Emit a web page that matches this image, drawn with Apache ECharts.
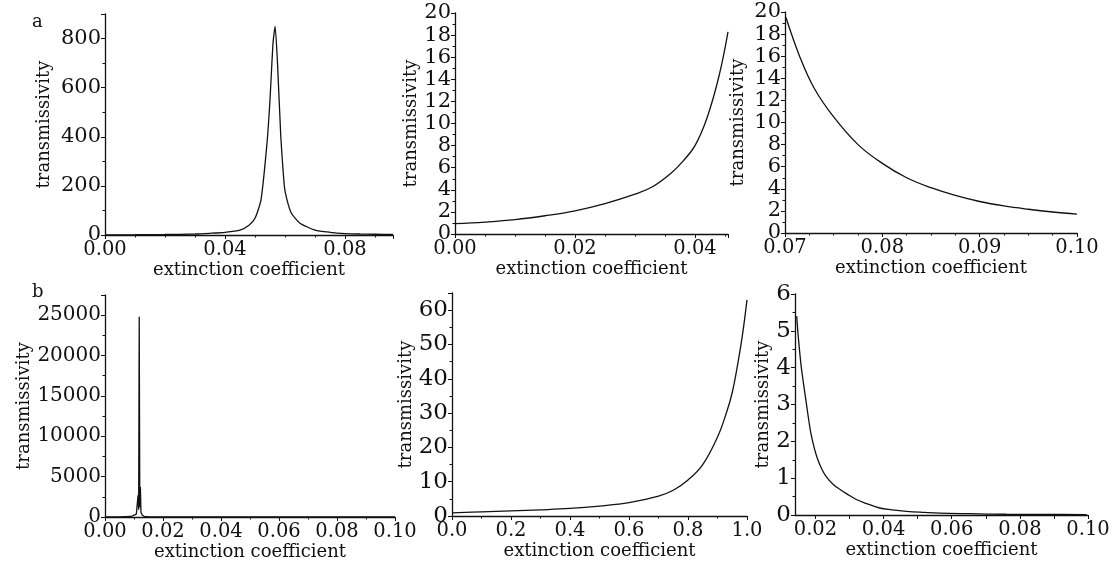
<!DOCTYPE html>
<html>
<head>
<meta charset="utf-8">
<script src="https://cdn.jsdelivr.net/npm/echarts@6/dist/echarts.min.js"></script>
<style>
html,body{margin:0;padding:0;background:#fff;}
#chart{width:1119px;height:569px;}
</style>
</head>
<body>
<div id="chart"></div>
<script>
// ---- data ----
const panelLetters = ['a', 'b'];
const xName = 'extinction coefficient';
const yName = 'transmissivity';

// panel a-1
const p1X = [0, 0.01, 0.02, 0.03, 0.035, 0.04, 0.045, 0.048, 0.05, 0.052, 0.054, 0.055, 0.056, 0.0567, 0.0575, 0.0586, 0.0595, 0.06, 0.062, 0.065, 0.07, 0.075, 0.08, 0.085, 0.09, 0.096];
const p1Y = [0.5, 1, 2, 4, 7, 11, 20, 40, 68, 143, 374, 551, 780, 850, 700, 400, 240, 180, 92, 48, 20, 11, 6, 4, 3, 2];
// panel a-2
const p2X = [0, 0.005, 0.01, 0.015, 0.02, 0.025, 0.03, 0.033, 0.036, 0.038, 0.04, 0.042, 0.044, 0.0455];
const p2Y = [0.93, 1.08, 1.3, 1.65, 2.1, 2.75, 3.6, 4.3, 5.5, 6.6, 8.0, 10.5, 14.3, 18.3];
// panel a-3
const p3X = [0.0701, 0.0715, 0.073, 0.075, 0.0775, 0.08, 0.0825, 0.085, 0.0875, 0.09, 0.0925, 0.095, 0.0975, 0.1];
const p3Y = [19.5, 16, 13.1, 10.5, 8.0, 6.3, 5.0, 4.1, 3.4, 2.85, 2.45, 2.15, 1.9, 1.7];
// panel b-1
const p4X = [0, 0.005, 0.009, 0.0108, 0.0114, 0.0116, 0.0118, 0.012, 0.0122, 0.0124, 0.0128, 0.0135, 0.015, 0.02, 0.04, 0.06, 0.08, 0.1];
const p4Y = [0, 10, 60, 350, 2700, 900, 24800, 1200, 3700, 600, 250, 90, 40, 12, 3, 1, 1, 0];
// panel b-2
const p5X = [0, 0.1, 0.2, 0.3, 0.4, 0.5, 0.6, 0.7, 0.75, 0.8, 0.85, 0.9, 0.93, 0.95, 0.97, 0.985, 1.0];
const p5Y = [0.9, 1.2, 1.5, 1.8, 2.2, 2.9, 3.9, 5.8, 7.5, 10.5, 15, 23, 30, 36, 45, 53, 63];
// panel b-3
const p6X = [0.0145, 0.015, 0.0158, 0.0166, 0.0173, 0.018, 0.0187, 0.0197, 0.0207, 0.022, 0.0231, 0.025, 0.0271, 0.03, 0.032, 0.035, 0.0388, 0.0425, 0.0467, 0.052, 0.0565, 0.065, 0.076, 0.088, 0.0996];
const p6Y = [5.4, 4.8, 4.05, 3.5, 3.05, 2.6, 2.2, 1.8, 1.5, 1.22, 1.05, 0.85, 0.7, 0.53, 0.42, 0.31, 0.19, 0.14, 0.1, 0.07, 0.05, 0.035, 0.02, 0.015, 0.01];

// tick labels
const p6XLabels = [0.02, 0.04, 0.06, 0.08, 0.10];
const p6XTicks = [0.02, 0.03, 0.04, 0.05, 0.06, 0.07, 0.08, 0.09, 0.10];

// ---- build chart ----
const FONT = 'DejaVu Serif';
const INK = '#111';
const zip = (xs, ys) => xs.map((x, i) => [x, ys[i]]);

const grids = [
  {left: 105, top: 14, width: 288, height: 221},
  {left: 455, top: 13, width: 273, height: 221},
  {left: 785, top: 12, width: 292, height: 221},
  {left: 105, top: 295, width: 290, height: 222},
  {left: 452, top: 293, width: 295, height: 223},
  {left: 795, top: 294, width: 293, height: 221}
];

const axisCommon = {
  axisLine: {show: true, lineStyle: {color: INK, width: 1.3}},
  axisTick: {show: true, length: 4, lineStyle: {color: INK, width: 1}},
  minorTick: {show: true, length: 2.5, lineStyle: {color: INK, width: 1}},
  splitLine: {show: false},
  minorSplitLine: {show: false}
};

function xAx(i, cfg) {
  return Object.assign({}, axisCommon, {
    type: 'value', gridIndex: i,
    name: xName, nameLocation: 'middle', nameGap: 25,
    nameTextStyle: {fontFamily: FONT, fontSize: 18, color: INK},
    axisLabel: Object.assign({fontFamily: FONT, fontSize: 19.5, color: INK, margin: 5,
      showMaxLabel: cfg.showMax !== false, hideOverlap: false,
      formatter: v => v.toFixed(cfg.dec)}, cfg.label || {}),
  }, cfg.extra || {}, {min: cfg.min, max: cfg.max});
}
function yAx(i, cfg) {
  return Object.assign({}, axisCommon, {
    type: 'value', gridIndex: i,
    name: yName, nameLocation: 'middle', nameGap: cfg.gap, nameRotate: 90,
    nameTextStyle: {fontFamily: FONT, fontSize: 18, color: INK},
    min: cfg.min, max: cfg.max, interval: cfg.interval,
    minorTick: Object.assign({}, axisCommon.minorTick, {splitNumber: cfg.minor}),
    axisLabel: {fontFamily: FONT, fontSize: cfg.fs, lineHeight: cfg.fs, color: INK, margin: 4,
      showMaxLabel: cfg.showMax !== false, showMinLabel: true, hideOverlap: false,
      formatter: v => String(Math.round(v * 100) / 100)}
  });
}

const xAxes = [
  Object.assign(xAx(0, {min: 0, max: 0.096, dec: 2, showMax: false}), {interval: 0.04, minorTick: Object.assign({}, axisCommon.minorTick, {splitNumber: 4})}),
  Object.assign(xAx(1, {min: 0, max: 0.0455, dec: 2, showMax: false}), {interval: 0.02, minorTick: Object.assign({}, axisCommon.minorTick, {splitNumber: 4})}),
  Object.assign(xAx(2, {min: 0.07, max: 0.1, dec: 2}), {interval: 0.01, minorTick: Object.assign({}, axisCommon.minorTick, {splitNumber: 4})}),
  Object.assign(xAx(3, {min: 0, max: 0.1, dec: 2}), {interval: 0.02, minorTick: Object.assign({}, axisCommon.minorTick, {splitNumber: 2})}),
  Object.assign(xAx(4, {min: 0, max: 1.0, dec: 1}), {interval: 0.2, minorTick: Object.assign({}, axisCommon.minorTick, {splitNumber: 2})}),
  Object.assign(xAx(5, {min: 0.014, max: 0.1, dec: 2, label: {customValues: p6XLabels}}),
    {axisTick: Object.assign({}, axisCommon.axisTick, {customValues: p6XTicks}), minorTick: {show: false}})
];

const yAxes = [
  yAx(0, {min: 0, max: 900, interval: 200, minor: 2, gap: 52, fs: 21, showMax: false}),
  yAx(1, {min: 0, max: 20, interval: 2, minor: 2, gap: 35, fs: 21}),
  yAx(2, {min: 0, max: 20, interval: 2, minor: 2, gap: 38, fs: 21}),
  yAx(3, {min: 0, max: 27500, interval: 5000, minor: 2, gap: 72, fs: 20, showMax: false}),
  yAx(4, {min: 0, max: 65, interval: 10, minor: 2, gap: 32, fs: 23, showMax: false}),
  yAx(5, {min: 0, max: 6, interval: 1, minor: 2, gap: 22, fs: 23})
];

const seriesData = [zip(p1X, p1Y), zip(p2X, p2Y), zip(p3X, p3Y), zip(p4X, p4Y), zip(p5X, p5Y), zip(p6X, p6Y)];
const smoothness = [0.2, 0.4, 0.4, false, 0.4, 0.4];
const series = seriesData.map((d, i) => ({
  type: 'line', xAxisIndex: i, yAxisIndex: i, data: d,
  showSymbol: false, smooth: smoothness[i], animation: false,
  lineStyle: {color: INK, width: 1.3}
}));

const chart = echarts.init(document.getElementById('chart'), null, {renderer: 'canvas'});
chart.setOption({
  backgroundColor: '#fff',
  animation: false,
  title: [
    {text: panelLetters[0], left: 27, top: 8, textStyle: {fontFamily: FONT, fontSize: 18, fontWeight: 'normal', color: INK}},
    {text: panelLetters[1], left: 27, top: 278, textStyle: {fontFamily: FONT, fontSize: 18, fontWeight: 'normal', color: INK}}
  ],
  grid: grids,
  xAxis: xAxes,
  yAxis: yAxes,
  series: series
});
</script>
</body>
</html>
